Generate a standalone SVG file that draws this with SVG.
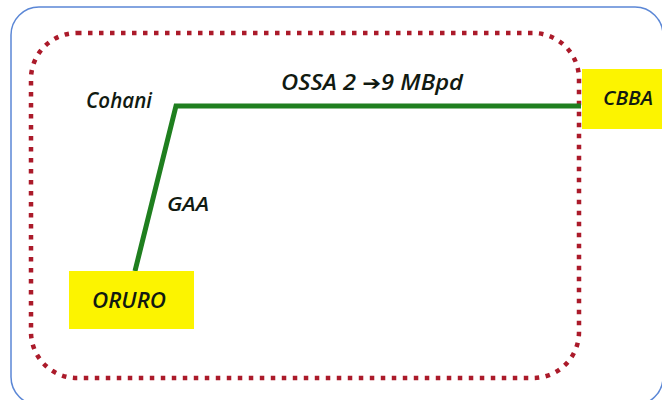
<svg xmlns="http://www.w3.org/2000/svg" width="662" height="400" viewBox="0 0 662 400">
<style>
.lbl{font-family:"Open Sans","Liberation Sans",sans-serif;font-style:italic;font-weight:600;fill:#111a11;}
.box{fill:#fcf400;}
.pipe{fill:none;stroke:#1f7f1f;stroke-width:5;stroke-linejoin:miter;stroke-linecap:butt;}
</style>
<rect width="662" height="400" fill="#ffffff"/>
<rect id="frame" x="11" y="7" width="652" height="398" rx="28" fill="none" stroke="#5b87d6" stroke-width="1.5"/>
<rect id="region" x="31" y="33" width="548" height="345" rx="46" fill="none" stroke="#ab1a2a" stroke-width="4.5" stroke-dasharray="4.5 6.5"/>
<g id="connectors">
<polyline class="pipe" points="135,271 176,106 581,106"/>
<text class="lbl" x="281" y="90" font-size="21" textLength="182" lengthAdjust="spacingAndGlyphs">OSSA 2 <tspan font-family="DejaVu Sans,sans-serif" font-weight="bold" font-style="normal" font-size="20">➔</tspan>9 MBpd</text>
<text class="lbl" x="167" y="211" font-size="20" textLength="42" lengthAdjust="spacingAndGlyphs">GAA</text>
</g>
<g id="cohani">
<text class="lbl" x="86" y="108" font-size="21" textLength="66" lengthAdjust="spacingAndGlyphs">Cohani</text>
</g>
<g id="oruro">
<rect class="box" x="69" y="271" width="125" height="58"/>
<text class="lbl" x="92" y="308" font-size="21" textLength="74" lengthAdjust="spacingAndGlyphs">ORURO</text>
</g>
<g id="cbba">
<rect class="box" x="582" y="69" width="82" height="60"/>
<text class="lbl" x="603" y="105" font-size="20" textLength="50" lengthAdjust="spacingAndGlyphs">CBBA</text>
</g>
</svg>
